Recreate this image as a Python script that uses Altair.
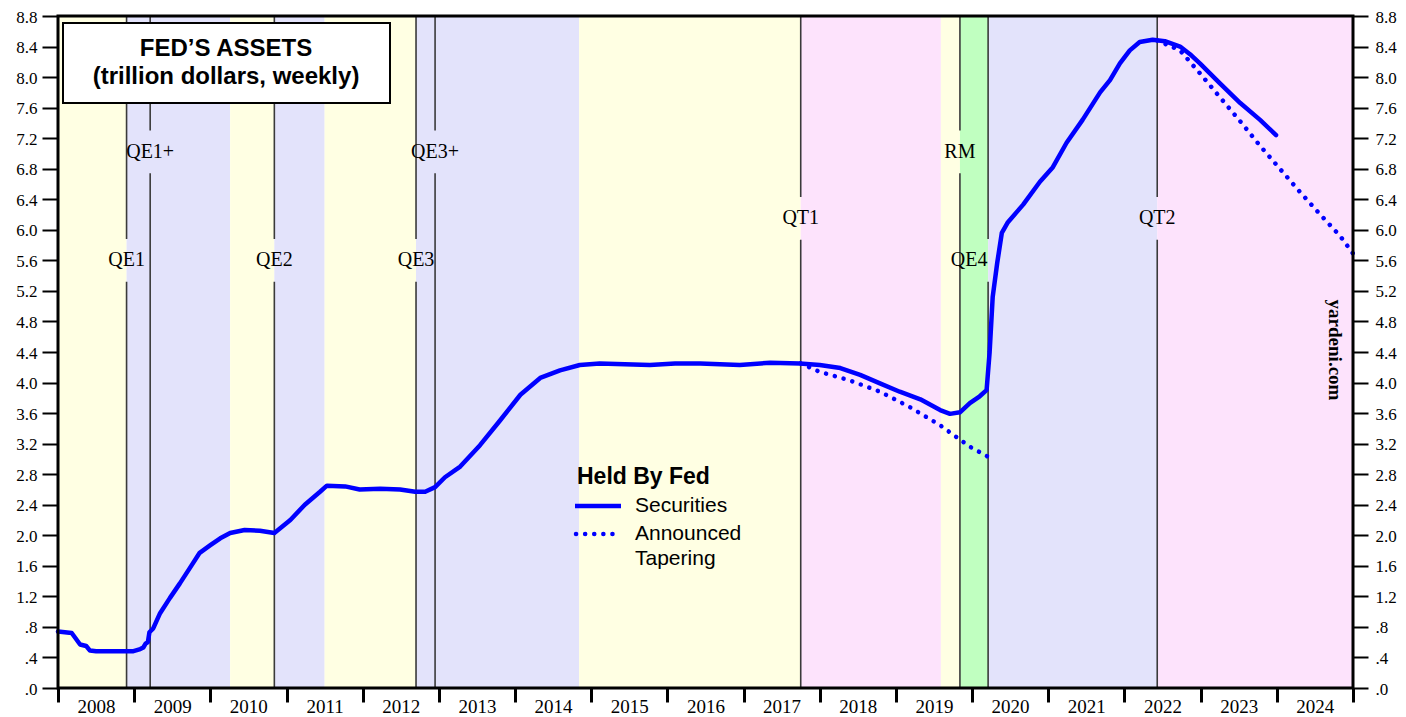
import altair as alt
import pandas as pd

# ---------------- data ----------------
sec_year = [
    2008.00, 2008.18, 2008.29, 2008.37, 2008.42, 2008.50, 2008.98, 2009.08,
    2009.12, 2009.15, 2009.18, 2009.20, 2009.25, 2009.34, 2009.47, 2009.60,
    2009.73, 2009.86, 2010.00, 2010.13, 2010.26, 2010.45, 2010.65, 2010.84,
    2011.05, 2011.24, 2011.44, 2011.53, 2011.77, 2011.96, 2012.23, 2012.49,
    2012.69, 2012.82, 2012.95, 2013.08, 2013.28, 2013.54, 2013.80, 2014.07,
    2014.33, 2014.59, 2014.85, 2015.11, 2015.44, 2015.77, 2016.10, 2016.43,
    2016.95, 2017.35, 2017.74, 2018.00, 2018.27, 2018.53, 2018.79, 2019.05,
    2019.32, 2019.58, 2019.71, 2019.84, 2019.97, 2020.10, 2020.19, 2020.23,
    2020.27, 2020.33, 2020.39, 2020.47, 2020.67, 2020.89, 2021.06, 2021.24,
    2021.45, 2021.68, 2021.81, 2021.94, 2022.07, 2022.20, 2022.37, 2022.53,
    2022.73, 2022.86, 2022.99, 2023.25, 2023.52, 2023.78, 2023.99,
]
sec_val = [
    0.74, 0.72, 0.57, 0.55, 0.49, 0.48, 0.48, 0.51,
    0.53, 0.58, 0.60, 0.73, 0.78, 0.98, 1.18, 1.37,
    1.57, 1.77, 1.87, 1.96, 2.03, 2.07, 2.06, 2.03,
    2.20, 2.40, 2.57, 2.65, 2.64, 2.60, 2.61, 2.60,
    2.57, 2.57, 2.63, 2.76, 2.90, 3.18, 3.50, 3.84,
    4.06, 4.16, 4.23, 4.25, 4.24, 4.23, 4.25, 4.25,
    4.23, 4.26, 4.25, 4.23, 4.19, 4.10, 3.99, 3.88,
    3.78, 3.64, 3.59, 3.61, 3.73, 3.82, 3.90, 4.40,
    5.12, 5.57, 5.96, 6.10, 6.33, 6.63, 6.82, 7.14,
    7.44, 7.80, 7.96, 8.18, 8.35, 8.46, 8.49, 8.47,
    8.40, 8.30, 8.18, 7.92, 7.66, 7.44, 7.24,
]

tap1_year = [2017.75, 2018.00, 2018.39, 2018.79, 2019.18, 2019.58, 2019.97, 2020.26]
tap1_val = [4.25, 4.14, 4.03, 3.88, 3.68, 3.44, 3.16, 3.00]

tap2_year = [2022.43, 2022.73, 2022.99, 2023.25, 2023.52, 2023.78,
             2024.04, 2024.30, 2024.57, 2024.83, 2025.00]
tap2_val = [8.48, 8.35, 8.05, 7.74, 7.42, 7.10, 6.80, 6.50, 6.20, 5.92, 5.69]

band_start = [2008.00, 2008.90, 2010.26, 2010.84, 2011.50, 2012.70,
              2014.84, 2017.75, 2019.59, 2019.84, 2020.21, 2022.43]
band_end = [2008.90, 2010.26, 2010.84, 2011.50, 2012.70, 2014.84,
            2017.75, 2019.59, 2019.84, 2020.21, 2022.43, 2025.00]
band_kind = ["taper", "qe", "taper", "qe", "taper", "qe",
             "taper", "qt", "taper", "rm", "qe", "qt"]

event_name = ["QE1", "QE1+", "QE2", "QE3", "QE3+", "QT1", "RM", "QE4", "QT2"]
event_year = [2008.90, 2009.21, 2010.84, 2012.70, 2012.95, 2017.75, 2019.84, 2020.21, 2022.43]
event_label_x = [2008.90, 2009.21, 2010.84, 2012.70, 2012.95, 2017.75, 2019.84, 2019.96, 2022.43]
event_label_y = [5.60, 7.02, 5.60, 5.60, 7.02, 6.15, 7.02, 5.60, 6.15]

year_ticks = [2008, 2009, 2010, 2011, 2012, 2013, 2014, 2015, 2016,
              2017, 2018, 2019, 2020, 2021, 2022, 2023, 2024, 2025]
y_ticks = [0.0, 0.4, 0.8, 1.2, 1.6, 2.0, 2.4, 2.8, 3.2, 3.6, 4.0, 4.4,
           4.8, 5.2, 5.6, 6.0, 6.4, 6.8, 7.2, 7.6, 8.0, 8.4, 8.8]

# ---------------- styling ----------------
W, H = 1295, 672
Y_MAX = 8.8
GAP = 0.28
SERIF = "Liberation Serif"
SANS = "Liberation Sans"
BLUE = "#0000FF"
band_colors = {"taper": "#FFFFE3", "qe": "#E3E3FB", "qt": "#FDE3FC", "rm": "#C0FFC0"}

assert len(sec_year) == len(sec_val)

sec_df = pd.DataFrame({"year": sec_year, "value": sec_val})
tap_df = pd.concat([
    pd.DataFrame({"year": tap1_year, "value": tap1_val, "seg": "a"}),
    pd.DataFrame({"year": tap2_year, "value": tap2_val, "seg": "b"}),
])
band_df = pd.DataFrame({
    "start": band_start, "end": band_end,
    "color": [band_colors[k] for k in band_kind],
    "lo": 0.0, "hi": Y_MAX,
})
seg_rows = []
for yr, ly in zip(event_year, event_label_y):
    seg_rows.append({"year": yr, "lo": 0.0, "hi": ly - GAP})
    seg_rows.append({"year": yr, "lo": ly + GAP, "hi": Y_MAX})
seg_df = pd.DataFrame(seg_rows)
lab_df = pd.DataFrame({"name": event_name, "x": event_label_x, "y": event_label_y})
one = pd.DataFrame({"a": [0]})

xscale = alt.Scale(domain=[2008, 2025], nice=False, zero=False)
yscale = alt.Scale(domain=[0, Y_MAX], nice=False, zero=True)

x_axis = alt.Axis(
    values=year_ticks,
    labelExpr="datum.value < 2025 ? format(datum.value, 'd') : ''",
    labelOffset=38, labelAlign="center", labelFlush=False, labelOverlap=False,
    labelBound=False, tickSize=14, tickWidth=3, tickColor="black",
    domain=False, grid=False, title=None, labelBaseline="top",
    labelFont=SERIF, labelFontSize=19, labelColor="black", labelPadding=-5,
)
lab_expr = ("datum.value < 0.99 ? replace(format(datum.value, '.1f'), '0.', '.')"
            " : format(datum.value, '.1f')")
y_left = alt.Axis(
    orient="left", values=y_ticks, labelExpr=lab_expr, tickSize=16, tickWidth=2,
    tickColor="black", domain=False, grid=False, title=None, labelFlush=False,
    labelOverlap=False, labelFont=SERIF, labelFontSize=17, labelColor="black",
    labelPadding=5, labelOffset=1,
)
y_right = alt.Axis(
    orient="right", values=y_ticks, labelExpr=lab_expr, tickSize=15, tickWidth=2,
    tickColor="black", domain=False, grid=False, title=None, labelFlush=False,
    labelOverlap=False, labelFont=SERIF, labelFontSize=17, labelColor="black",
    labelPadding=7, labelOffset=1,
)

X = lambda f: alt.X(f, scale=xscale, axis=x_axis)

bands = alt.Chart(band_df).mark_rect().encode(
    x=X("start:Q"),
    x2="end:Q",
    y=alt.Y("lo:Q", scale=yscale, axis=y_left),
    y2="hi:Q",
    color=alt.Color("color:N", scale=None),
)

right_axis = alt.Chart(band_df).mark_point(opacity=0).encode(
    x=X("start:Q"),
    y=alt.Y("lo:Q", scale=yscale, axis=y_right),
)

rules = alt.Chart(seg_df).mark_rule(color="#3a3a3a", strokeWidth=1.6).encode(
    x=X("year:Q"),
    y=alt.Y("lo:Q", scale=yscale, axis=None),
    y2="hi:Q",
)

labels = alt.Chart(lab_df).mark_text(
    font=SERIF, fontSize=20, align="center", baseline="middle", color="black"
).encode(
    x=X("x:Q"),
    y=alt.Y("y:Q", scale=yscale, axis=None),
    text="name:N",
)

sec_line = alt.Chart(sec_df).mark_line(
    color=BLUE, strokeWidth=4.5, strokeJoin="round", strokeCap="round"
).encode(
    x=X("year:Q"),
    y=alt.Y("value:Q", scale=yscale, axis=None),
)

tap_line = alt.Chart(tap_df).mark_line(
    color=BLUE, strokeWidth=4.5, strokeDash=[0.1, 9], strokeCap="round"
).encode(
    x=X("year:Q"),
    y=alt.Y("value:Q", scale=yscale, axis=None),
    detail="seg:N",
)

frame = alt.Chart(one).mark_rect(fillOpacity=0, stroke="black", strokeWidth=3).encode(
    x=alt.value(0), x2=alt.value(W), y=alt.value(0), y2=alt.value(H)
)

title_box = alt.Chart(one).mark_rect(fill="white", stroke="black", strokeWidth=2).encode(
    x=alt.value(5), x2=alt.value(332), y=alt.value(7), y2=alt.value(87)
)


def txt(s, x, y, size, weight="normal", font=SANS, align="center", angle=0):
    kw = dict(font=font, fontSize=size, fontWeight=weight, align=align,
              baseline="middle", color="black")
    if angle:
        kw["angle"] = angle
    return alt.Chart(one).mark_text(**kw).encode(
        x=alt.value(x), y=alt.value(y), text=alt.value(s)
    )


title1 = txt("FED’S ASSETS", 168, 33, 24, "bold")
title2 = txt("(trillion dollars, weekly)", 168, 61, 24, "bold")

leg_title = txt("Held By Fed", 519, 461, 23, "bold", align="left")
leg_solid = alt.Chart(one).mark_rule(color=BLUE, strokeWidth=4.5).encode(
    x=alt.value(517), x2=alt.value(563), y=alt.value(490)
)
leg_dot = alt.Chart(one).mark_rule(
    color=BLUE, strokeWidth=4.5, strokeDash=[0.1, 9], strokeCap="round"
).encode(x=alt.value(518), x2=alt.value(556), y=alt.value(518))
leg_t1 = txt("Securities", 577, 490, 21, align="left")
leg_t2 = txt("Announced", 577, 518, 21, align="left")
leg_t3 = txt("Tapering", 577, 543, 21, align="left")

brand = txt("yardeni.com", 1277, 334, 19, "bold", font=SERIF, angle=90)

chart = alt.layer(
    bands, right_axis, rules, labels, tap_line, sec_line, frame,
    title_box, title1, title2,
    leg_title, leg_solid, leg_dot, leg_t1, leg_t2, leg_t3, brand,
).resolve_axis(y="independent").properties(
    width=W, height=H,
    autosize=alt.AutoSizeParams(type="none"),
    padding={"left": 50, "top": 8, "right": 45, "bottom": 29},
).configure_view(strokeWidth=0).configure(background="white")

chart.save("out.html", embed_options={"renderer": "svg", "actions": False})
